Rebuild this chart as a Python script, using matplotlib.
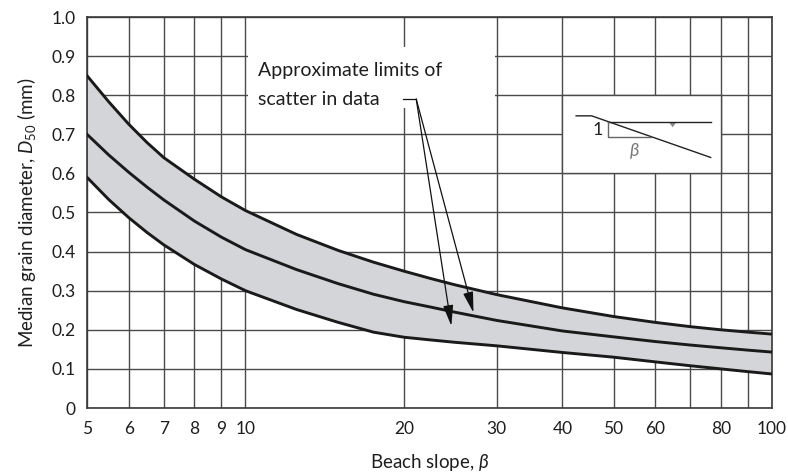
import matplotlib
matplotlib.use("Agg")
import matplotlib.pyplot as plt
from matplotlib.patches import Rectangle, Polygon
from matplotlib.ticker import FixedLocator, NullLocator

plt.rcParams['font.family'] = ['Lato', 'DejaVu Sans']
plt.rcParams['mathtext.fontset'] = 'custom'
plt.rcParams['mathtext.rm'] = 'Lato'
plt.rcParams['mathtext.it'] = 'Lato:italic'
plt.rcParams['mathtext.fallback'] = 'stix'

# ---- data ----
slope = [5, 5.5, 6, 6.5, 7, 8, 9, 10, 12.5, 15, 17.5, 20, 22.5, 25, 30, 40, 50, 60, 70, 80, 90, 100]
d50_upper = [0.850, 0.783, 0.726, 0.679, 0.640, 0.585, 0.540, 0.505, 0.444, 0.403, 0.373,
             0.350, 0.331, 0.315, 0.290, 0.256, 0.234, 0.219, 0.208, 0.200, 0.194, 0.189]
d50_middle = [0.700, 0.647, 0.603, 0.565, 0.532, 0.478, 0.437, 0.405, 0.354, 0.318, 0.291,
              0.272, 0.258, 0.245, 0.224, 0.197, 0.182, 0.170, 0.161, 0.154, 0.148, 0.143]
d50_lower = [0.590, 0.533, 0.487, 0.449, 0.417, 0.367, 0.330, 0.300, 0.252, 0.219, 0.194,
             0.181, 0.174, 0.168, 0.159, 0.142, 0.130, 0.118, 0.108, 0.100, 0.093, 0.087]

x_grid = [5, 6, 7, 8, 9, 10, 20, 30, 40, 50, 60, 70, 80, 90, 100]
x_labeled = [5, 6, 7, 8, 9, 10, 20, 30, 40, 50, 60, 80, 100]
y_ticks = [0, 0.1, 0.2, 0.3, 0.4, 0.5, 0.6, 0.7, 0.8, 0.9, 1.0]
y_labels = ['0', '0.1', '0.2', '0.3', '0.4', '0.5', '0.6', '0.7', '0.8', '0.9', '1.0']

grid_color = '#4a4a4a'
fill_color = '#d4d5d8'
text_color = '#1e1e1e'

fig = plt.figure(figsize=(7.88, 4.73), dpi=100)
ax = fig.add_axes([87/788, 1-408/473, (772-87)/788, (408-17)/473])
ax.set_xscale('log')
ax.set_xlim(5, 100)
ax.set_ylim(0, 1.0)

ax.xaxis.set_major_locator(FixedLocator(x_grid))
ax.xaxis.set_minor_locator(NullLocator())
ax.set_xticklabels([str(v) if v in x_labeled else '' for v in x_grid])
ax.set_yticks(y_ticks)
ax.set_yticklabels(y_labels)
ax.tick_params(axis='both', length=0, labelsize=12.5, colors=text_color)
ax.tick_params(axis='x', pad=9)
ax.tick_params(axis='y', pad=8)
ax.set_axisbelow(True)
ax.grid(True, color=grid_color, lw=1.0)
for s in ax.spines.values():
    s.set_color('#3a3a3a')
    s.set_linewidth(1.2)

# band and curves
ax.fill_between(slope, d50_lower, d50_upper, color=fill_color, lw=0, zorder=2)
for ys in (d50_upper, d50_middle, d50_lower):
    ax.plot(slope, ys, color='#1a1a1a', lw=2.1, zorder=3, solid_joinstyle='round')

# white box behind annotation text
ax.add_patch(Rectangle((10.12, 0.767), 29.75 - 10.12, 0.923 - 0.767,
                       facecolor='white', edgecolor='none', zorder=1))
ax.text(10.55, 0.864, 'Approximate limits of', fontsize=14, va='center', ha='left',
        color=text_color, zorder=4)
ax.text(10.55, 0.788, 'scatter in data', fontsize=14, va='center', ha='left',
        color=text_color, zorder=4)
ax.plot([19.9, 21.1], [0.790, 0.790], color='#111111', lw=0.9, zorder=4)
for tip in [(24.6, 0.210), (27.1, 0.244)]:
    ax.annotate('', xy=tip, xytext=(21.1, 0.790),
                arrowprops=dict(arrowstyle='-|>,head_length=0.9,head_width=0.22',
                                mutation_scale=14, color='#111111', lw=0.9,
                                shrinkA=0, shrinkB=0), zorder=4)

# inset sketch of beach slope
ins = ax.inset_axes([40, 0.6, 40, 0.2], transform=ax.transData)
ins.set_xlim(0, 1)
ins.set_ylim(0, 1)
ins.set_xticks([])
ins.set_yticks([])
ins.set_facecolor('white')
for s in ins.spines.values():
    s.set_color(grid_color)
    s.set_linewidth(1.0)
ins.plot([0.086, 0.184, 0.935], [0.736, 0.736, 0.204], color='#222222', lw=1.0)
ins.plot([0.285, 0.935], [0.658, 0.658], color='#222222', lw=1.0)
ins.plot([0.285, 0.285, 0.558], [0.658, 0.468, 0.468], color='#666666', lw=1.0)
ins.add_patch(Polygon([[0.675, 0.645], [0.715, 0.645], [0.695, 0.59]],
                      closed=True, facecolor='#888888', edgecolor='none'))
ins.text(0.22, 0.56, '1', fontsize=13, ha='center', va='center', color='#222222')
ins.text(0.45, 0.29, r'$\beta$', fontsize=13, ha='center', va='center', color='#777777')

ax.set_xlabel(r'Beach slope, $\beta$', fontsize=13.5, labelpad=11, color=text_color)
ax.set_ylabel(r'Median grain diameter, $D_{50}$ (mm)', fontsize=13.5, labelpad=10,
              color=text_color)

fig.savefig('out.png', dpi=100)
